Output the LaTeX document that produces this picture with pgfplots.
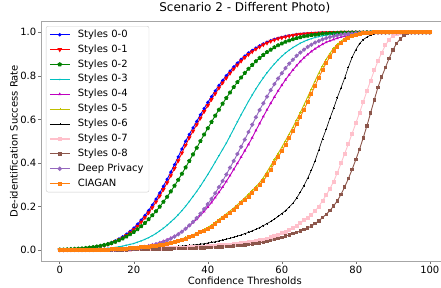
\documentclass[border=0pt]{standalone}
\usepackage{fontspec}
\setmainfont{DejaVu Sans}
\usepackage{pgfplots}
\pgfplotsset{compat=1.18}
\usepackage{pgfplotstable}
\definecolor{cB}{rgb}{0,0,1}
\definecolor{cR}{rgb}{1,0,0}
\definecolor{cG}{rgb}{0,0.5,0}
\definecolor{cC}{rgb}{0,0.75,0.75}
\definecolor{cM}{rgb}{0.75,0,0.75}
\definecolor{cY}{rgb}{0.75,0.75,0}
\definecolor{cK}{rgb}{0,0,0}
\definecolor{cP}{RGB}{255,192,203}
\definecolor{cBr}{HTML}{8C564B}
\definecolor{cPu}{HTML}{9467BD}
\definecolor{cO}{HTML}{FF7F0E}
\pgfplotstableread{
x s00 s01 s02 s03 s04 s05 s06 s07 s08 dp cg
0 .001 .001 .002 .000 0 0 0 0 0 0 0
1 .001 .001 .002 .001 0 0 0 0 0 0 0
2 .002 .002 .003 .001 0 0 0 0 0 0 0
3 .002 .002 .004 .001 0 0 0 0 0 0 0
4 .003 .003 .005 .001 0 0 0 0 0 0 0
5 .004 .004 .006 .001 0 0 0 0 0 0 0
6 .005 .005 .007 .002 0 0 0 0 0 0 0
7 .007 .006 .009 .002 0 0 0 0 0 0 0
8 .009 .008 .011 .003 .001 0 0 0 0 0 0
9 .012 .011 .013 .004 .001 .001 0 0 0 0 0
10 .015 .014 .016 .004 .001 .001 0 0 0 .001 .001
11 .018 .017 .019 .006 .001 .002 0 0 0 .001 .001
12 .023 .021 .023 .007 .002 .002 0 0 0 .001 .002
13 .028 .026 .027 .008 .002 .003 .001 0 0 .001 .002
14 .035 .032 .032 .010 .003 .004 .001 0 0 .002 .003
15 .042 .039 .038 .012 .003 .005 .002 .001 0 .002 .004
16 .051 .047 .045 .015 .004 .006 .002 .001 .001 .003 .005
17 .061 .056 .053 .018 .005 .007 .003 .002 .001 .004 .006
18 .073 .067 .062 .022 .007 .008 .003 .002 .001 .005 .007
19 .086 .080 .072 .026 .008 .009 .004 .002 .002 .006 .008
20 .101 .094 .083 .030 .010 .010 .004 .003 .002 .007 .009
21 .119 .110 .095 .036 .012 .011 .005 .003 .002 .009 .010
22 .138 .129 .109 .042 .014 .013 .006 .004 .003 .011 .012
23 .159 .149 .124 .049 .017 .014 .006 .004 .003 .014 .013
24 .182 .171 .141 .057 .021 .016 .007 .005 .003 .017 .015
25 .207 .195 .159 .066 .025 .018 .008 .005 .004 .021 .017
26 .234 .221 .178 .076 .029 .021 .009 .006 .004 .026 .019
27 .262 .248 .199 .088 .035 .024 .010 .006 .004 .031 .022
28 .293 .278 .221 .100 .041 .027 .011 .007 .005 .037 .025
29 .325 .309 .244 .114 .048 .031 .012 .008 .005 .044 .029
30 .358 .342 .269 .129 .056 .035 .014 .008 .005 .052 .033
31 .392 .375 .295 .145 .064 .040 .015 .009 .006 .062 .037
32 .428 .410 .322 .162 .074 .045 .017 .010 .006 .072 .042
33 .464 .446 .350 .181 .085 .051 .018 .010 .007 .084 .047
34 .500 .482 .379 .201 .098 .057 .020 .011 .007 .098 .053
35 .531 .516 .409 .223 .111 .063 .021 .012 .008 .113 .059
36 .561 .546 .439 .246 .126 .070 .023 .013 .008 .129 .066
37 .591 .576 .469 .269 .141 .078 .025 .014 .009 .147 .073
38 .621 .606 .500 .294 .159 .086 .027 .015 .010 .167 .081
39 .650 .636 .530 .320 .177 .094 .029 .016 .010 .188 .089
40 .678 .664 .559 .347 .197 .104 .032 .017 .011 .211 .098
41 .705 .692 .588 .375 .218 .114 .035 .018 .012 .235 .108
42 .731 .718 .617 .404 .241 .126 .038 .019 .013 .261 .118
43 .756 .744 .644 .433 .265 .140 .042 .021 .014 .289 .132
44 .779 .768 .672 .462 .289 .153 .046 .022 .015 .317 .146
45 .801 .790 .698 .491 .315 .166 .050 .024 .016 .347 .158
46 .822 .812 .723 .523 .342 .179 .054 .025 .017 .378 .171
47 .841 .832 .748 .556 .370 .193 .059 .027 .018 .409 .185
48 .859 .850 .771 .589 .398 .208 .064 .029 .020 .441 .199
49 .876 .868 .792 .621 .427 .224 .069 .031 .021 .474 .214
50 .891 .884 .813 .652 .456 .240 .075 .033 .023 .507 .230
51 .905 .898 .832 .683 .485 .256 .081 .035 .025 .542 .246
52 .917 .911 .850 .712 .516 .273 .088 .038 .027 .576 .263
53 .928 .923 .867 .740 .549 .291 .095 .041 .030 .610 .280
54 .938 .933 .882 .766 .581 .309 .103 .044 .033 .643 .298
55 .947 .943 .896 .791 .613 .332 .112 .047 .036 .674 .316
56 .955 .951 .909 .814 .644 .359 .121 .052 .040 .705 .343
57 .962 .959 .920 .835 .674 .387 .131 .058 .044 .734 .370
58 .968 .965 .931 .855 .703 .415 .142 .064 .049 .762 .398
59 .973 .971 .940 .873 .731 .443 .154 .071 .054 .788 .426
60 .977 .975 .948 .890 .757 .472 .167 .078 .059 .812 .455
61 .981 .979 .956 .905 .782 .502 .181 .085 .064 .835 .484
62 .984 .983 .962 .918 .805 .533 .197 .092 .069 .856 .514
63 .987 .986 .968 .930 .827 .564 .215 .100 .075 .874 .545
64 .990 .989 .973 .940 .847 .597 .238 .111 .081 .892 .577
65 .991 .991 .977 .950 .866 .631 .266 .123 .087 .907 .610
66 .993 .992 .981 .958 .883 .667 .296 .136 .094 .920 .645
67 .994 .994 .984 .965 .898 .703 .330 .149 .101 .933 .681
68 .996 .995 .987 .971 .912 .740 .367 .163 .110 .943 .718
69 .996 .996 .989 .976 .924 .777 .410 .179 .121 .953 .755
70 .997 .997 .991 .980 .935 .813 .460 .200 .134 .960 .792
71 .998 .998 .993 .984 .945 .846 .510 .226 .149 .967 .827
72 .998 .998 .994 .987 .954 .876 .555 .252 .164 .973 .859
73 .999 .999 .995 .990 .961 .903 .605 .282 .181 .978 .888
74 .999 .999 .996 .992 .967 .926 .650 .314 .202 .982 .913
75 .999 .999 .997 .993 .973 .944 .700 .355 .226 .986 .934
76 1 1 .998 .995 .978 .959 .745 .398 .255 .989 .951
77 1 1 .998 .996 .982 .972 .790 .443 .290 .991 .965
78 1 1 .998 .997 .985 .981 .840 .488 .328 .993 .976
79 1 1 .999 .998 .988 .988 .885 .535 .370 .994 .984
80 1 1 .999 .998 .990 .992 .920 .582 .415 .996 .990
81 1 1 .999 .999 .992 .996 .948 .630 .462 .997 .994
82 1 1 .999 .999 .994 .998 .966 .680 .515 .997 .997
83 1 1 1 .999 .995 .999 .978 .730 .570 .998 .998
84 1 1 1 .999 .996 .999 .987 .778 .630 .999 .999
85 1 1 1 1 .997 1 .993 .825 .690 .999 1
86 1 1 1 1 .998 1 .997 .868 .748 .999 1
87 1 1 1 1 .998 1 .999 .906 .795 1 1
88 1 1 1 1 .999 1 1 .940 .838 1 1
89 1 1 1 1 .999 1 1 .966 .880 1 1
90 1 1 1 1 .999 1 1 .984 .918 1 1
91 1 1 1 1 1 1 1 .994 .948 1 1
92 1 1 1 1 1 1 1 .998 .970 1 1
93 1 1 1 1 1 1 1 1 .985 1 1
94 1 1 1 1 1 1 1 1 .994 1 1
95 1 1 1 1 1 1 1 1 .998 1 1
96 1 1 1 1 1 1 1 1 1 1 1
97 1 1 1 1 1 1 1 1 1 1 1
98 1 1 1 1 1 1 1 1 1 1 1
99 1 1 1 1 1 1 1 1 1 1 1
100 1 1 1 1 1 1 1 1 1 1 1
}\data
\begin{document}
\begin{tikzpicture}
\path[use as bounding box] (-41.3pt,-26.1pt) rectangle (399.7pt,260.9pt);
\clip (-41.3pt,-26.1pt) rectangle (399.7pt,260.9pt);
\begin{axis}[
  scale only axis, width=407pt, height=239.5pt,
  xmin=-5, xmax=105, ymin=-0.05, ymax=1.05,
  xtick={0,20,40,60,80,100},
  ytick={0,0.2,0.4,0.6,0.8,1.0},
  tick align=outside, tick pos=left,
  major tick length=3pt,
  axis line style={black!35},
  tick style={black!55, line width=0.6pt},
  every tick label/.append style={font=\fontsize{10}{12}\selectfont},
  /pgf/number format/assume math mode=true,
  yticklabel style={/pgf/number format/.cd, fixed, fixed zerofill, precision=1, /tikz/.cd, xshift=1.5pt},
  xticklabel style={yshift=1pt},
  title={Scenario 2 - Different Photo)},
  title style={font=\fontsize{12}{14}\selectfont, at={(0.5,1)}, anchor=base, yshift=3.5pt},
  xlabel={Confidence Thresholds},
  ylabel={De-identification Success Rate},
  label style={font=\fontsize{10}{12}\selectfont},
  xlabel style={at={(axis description cs:0.5,0)}, anchor=base, yshift=-23.6pt},
  ylabel style={at={(axis description cs:-0.0671,0.5)}, anchor=center},
  legend style={at={(axis description cs:0,1)}, anchor=north west, xshift=4.7pt, yshift=-4.6pt,
    draw=black!20, rounded corners=2pt, fill=white, fill opacity=0.8, text opacity=1,
    inner xsep=3pt, inner ysep=1pt, font=\fontsize{10}{12}\selectfont,
    nodes={inner sep=2.5pt, text height=7.5pt, text depth=2.4pt},
    /tikz/every odd column/.append style={column sep=5pt}},
  legend cell align=left,
  legend image code/.code={\draw[mark repeat=2,mark phase=2,#1,line width=1.1pt] plot coordinates {(0pt,0pt)(10pt,0pt)(20pt,0pt)};},
  every axis plot/.append style={line width=0.9pt},
]
\addplot[color=cB, mark=*, mark size=1.1pt] table[x=x,y=s00]{\data};
\addlegendentry{Styles 0-0}
\addplot[color=cR, mark=triangle*, mark size=1.7pt, mark options={rotate=180}] table[x=x,y=s01]{\data};
\addlegendentry{Styles 0-1}
\addplot[color=cG, mark=pentagon*, mark size=1.7pt] table[x=x,y=s02]{\data};
\addlegendentry{Styles 0-2}
\addplot[color=cC, mark=triangle, mark size=0.7pt, mark options={rotate=180, line width=0.4pt}] table[x=x,y=s03]{\data};
\addlegendentry{Styles 0-3}
\addplot[color=cM, mark=triangle*, mark size=0.8pt] table[x=x,y=s04]{\data};
\addlegendentry{Styles 0-4}
\addplot[color=cY, mark=+, mark size=1.2pt, mark options={line width=0.4pt}] table[x=x,y=s05]{\data};
\addlegendentry{Styles 0-5}
\addplot[color=cK, mark=+, mark size=1pt, line width=0.6pt, mark options={line width=0.4pt}] table[x=x,y=s06]{\data};
\addlegendentry{Styles 0-6}
\addplot[color=cP, mark=square*, mark size=1.5pt] table[x=x,y=s07]{\data};
\addlegendentry{Styles 0-7}
\addplot[color=cBr, mark=square*, mark size=1.2pt] table[x=x,y=s08]{\data};
\addlegendentry{Styles 0-8}
\addplot[color=cPu, mark=*, mark size=1.6pt] table[x=x,y=dp]{\data};
\addlegendentry{Deep Privacy}
\addplot[color=cO, mark=square*, mark size=1.5pt] table[x=x,y=cg]{\data};
\addlegendentry{CIAGAN}
\end{axis}
\end{tikzpicture}
\end{document}
